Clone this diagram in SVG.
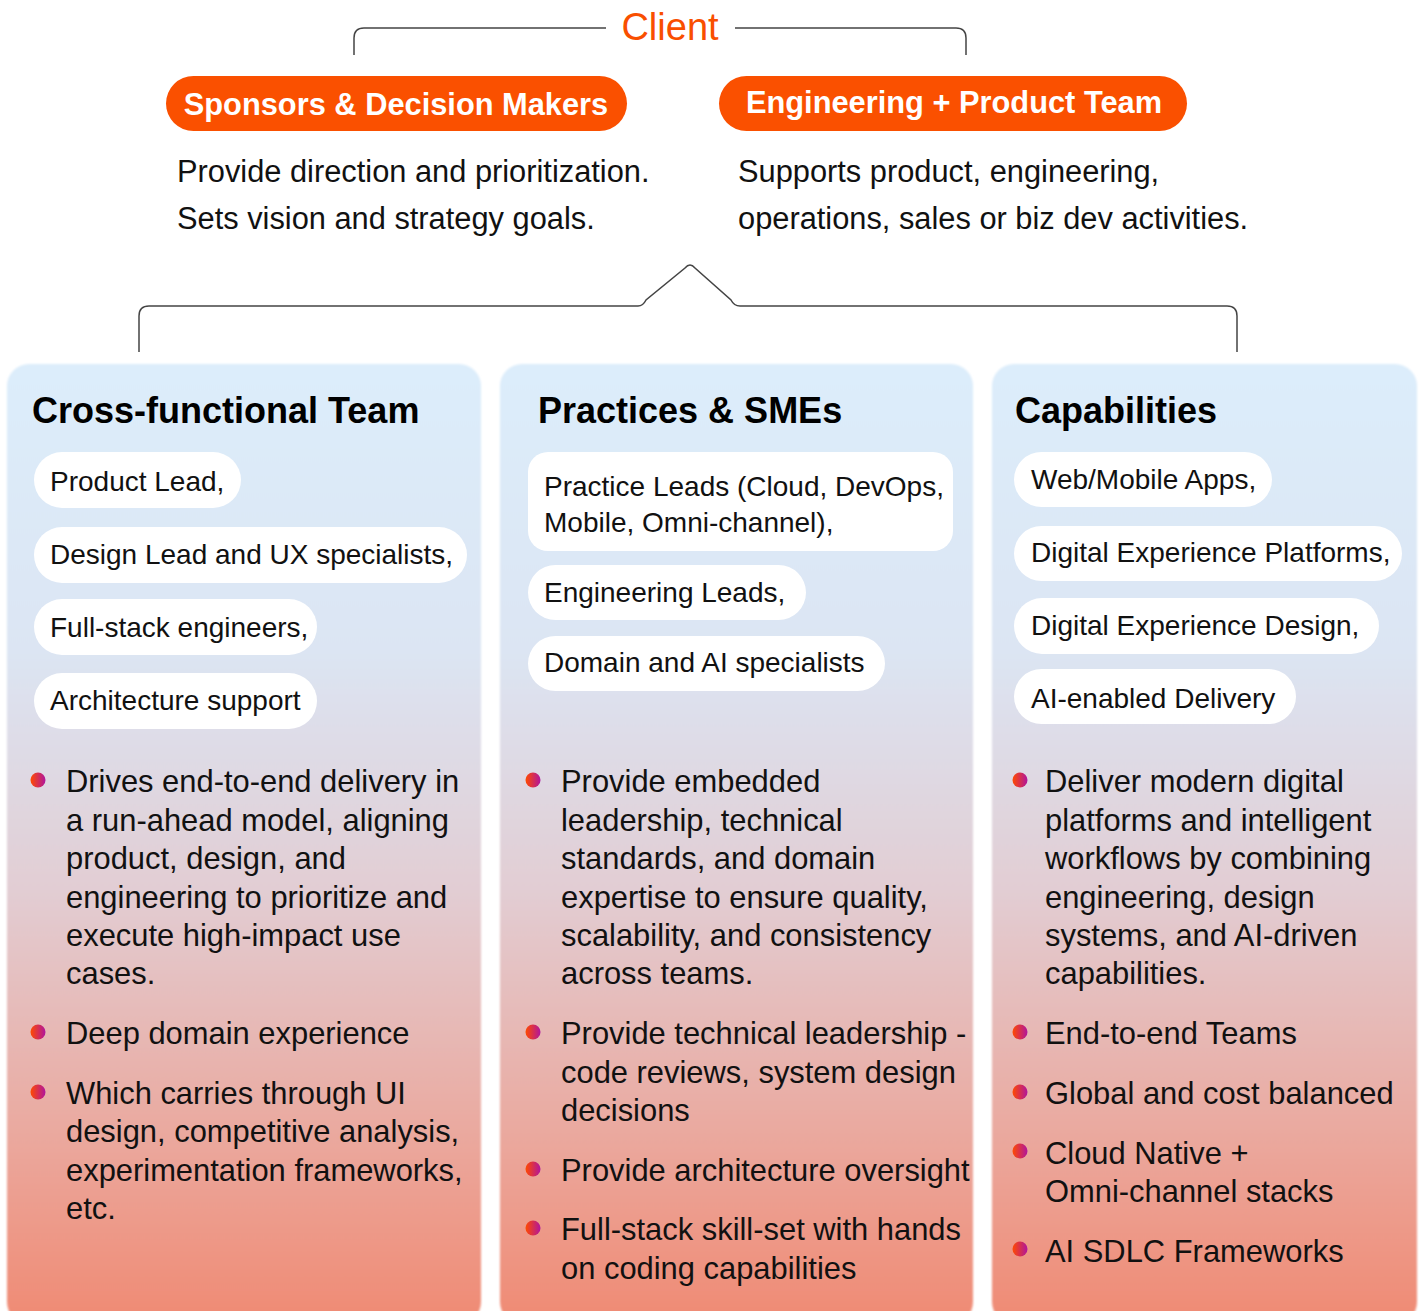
<svg xmlns="http://www.w3.org/2000/svg" width="1421" height="1311" viewBox="0 0 1421 1311">
<defs>
<linearGradient id="colg" x1="0" y1="0" x2="0" y2="1">
<stop offset="0" stop-color="#dcedfb"/>
<stop offset="0.3" stop-color="#dce5f3"/>
<stop offset="0.55" stop-color="#e2cdd3"/>
<stop offset="0.8" stop-color="#eaa99f"/>
<stop offset="1" stop-color="#f08a73"/>
</linearGradient>
<linearGradient id="dotg" x1="0" y1="0" x2="1" y2="0">
<stop offset="0" stop-color="#ff4a00"/>
<stop offset="1" stop-color="#b0159e"/>
</linearGradient>
<filter id="soft" x="-5%" y="-5%" width="110%" height="110%">
<feGaussianBlur stdDeviation="1.2"/>
</filter>
</defs>
<style>
.ln{fill:none;stroke:#444;stroke-width:1.5}
.pill{fill:#fa5000}
.pt{font-family:"Liberation Sans",Arial,sans-serif;font-size:30.8px;font-weight:bold;fill:#fff}
.desc{font-family:"Liberation Sans",Arial,sans-serif;font-size:30.8px;fill:#111}
.title{font-family:"Liberation Sans",Arial,sans-serif;font-size:36px;font-weight:bold;fill:#000}
.tag{fill:#fff}
.tt{font-family:"Liberation Sans",Arial,sans-serif;font-size:28px;fill:#111}
.bt{font-family:"Liberation Sans",Arial,sans-serif;font-size:30.9px;fill:#111}
.dot{fill:url(#dotg)}
.col{fill:url(#colg)}
</style>
<rect width="1421" height="1311" fill="#fff"/>

<g id="connectors">
<path class="ln" d="M354 55 V38 Q354 28 364 28 H606"/>
<path class="ln" d="M735 28 H956 Q966 28 966 38 V55"/>
<path class="ln" d="M139 352 V316 Q139 306 149 306 H638 Q643 306 646 300 L685 268 Q690 262 695 268 L731 300 Q734 306 740 306 H1227 Q1237 306 1237 316 V352"/>
</g>

<g id="client">
<text x="670" y="40" text-anchor="middle" font-family="Liberation Sans,Arial,sans-serif" font-size="38" fill="#f94f00">Client</text>
</g>

<g id="sponsors">
<rect class="pill" x="166" y="76" width="461" height="55" rx="27.5"/>
<text class="pt" x="396" y="115" text-anchor="middle">Sponsors &amp; Decision Makers</text>
<text class="desc" x="177" y="182">Provide direction and prioritization.</text>
<text class="desc" x="177" y="229">Sets vision and strategy goals.</text>
</g>

<g id="engineering">
<rect class="pill" x="719" y="76" width="468" height="55" rx="27.5"/>
<text class="pt" x="954" y="113" text-anchor="middle">Engineering + Product Team</text>
<text class="desc" x="738" y="182">Supports product, engineering,</text>
<text class="desc" x="738" y="229">operations, sales or biz dev activities.</text>
</g>

<g id="cross-functional">
<rect class="col" x="7" y="364" width="474" height="960" rx="22" filter="url(#soft)"/>
<text class="title" x="32" y="423">Cross-functional Team</text>
<rect class="tag" x="34" y="452" width="207" height="56" rx="28"/>
<text class="tt" x="50" y="491">Product Lead,</text>
<rect class="tag" x="34" y="527" width="433" height="56" rx="28"/>
<text class="tt" x="50" y="564">Design Lead and UX specialists,</text>
<rect class="tag" x="34" y="599" width="283" height="56" rx="28"/>
<text class="tt" x="50" y="637">Full-stack engineers,</text>
<rect class="tag" x="34" y="673" width="283" height="56" rx="28"/>
<text class="tt" x="50" y="710">Architecture support</text>
<circle class="dot" cx="38" cy="780" r="7.5"/>
<text class="bt" x="66" y="792">Drives end-to-end delivery in</text>
<text class="bt" x="66" y="831">a run-ahead model, aligning</text>
<text class="bt" x="66" y="869">product, design, and</text>
<text class="bt" x="66" y="908">engineering to prioritize and</text>
<text class="bt" x="66" y="946">execute high-impact use</text>
<text class="bt" x="66" y="984">cases.</text>
<circle class="dot" cx="38" cy="1032" r="7.5"/>
<text class="bt" x="66" y="1044">Deep domain experience</text>
<circle class="dot" cx="38" cy="1092" r="7.5"/>
<text class="bt" x="66" y="1104">Which carries through UI</text>
<text class="bt" x="66" y="1142">design, competitive analysis,</text>
<text class="bt" x="66" y="1181">experimentation frameworks,</text>
<text class="bt" x="66" y="1219">etc.</text>
</g>

<g id="practices">
<rect class="col" x="500" y="364" width="473" height="960" rx="22" filter="url(#soft)"/>
<text class="title" x="538" y="423">Practices &amp; SMEs</text>
<rect class="tag" x="528" y="452" width="425" height="99" rx="20"/>
<text class="tt" x="544" y="496">Practice Leads (Cloud, DevOps,</text>
<text class="tt" x="544" y="532">Mobile, Omni-channel),</text>
<rect class="tag" x="528" y="565" width="278" height="55" rx="27.5"/>
<text class="tt" x="544" y="602">Engineering Leads,</text>
<rect class="tag" x="528" y="636" width="357" height="55" rx="27.5"/>
<text class="tt" x="544" y="672">Domain and AI specialists</text>
<circle class="dot" cx="533" cy="780" r="7.5"/>
<text class="bt" x="561" y="792">Provide embedded</text>
<text class="bt" x="561" y="831">leadership, technical</text>
<text class="bt" x="561" y="869">standards, and domain</text>
<text class="bt" x="561" y="908">expertise to ensure quality,</text>
<text class="bt" x="561" y="946">scalability, and consistency</text>
<text class="bt" x="561" y="984">across teams.</text>
<circle class="dot" cx="533" cy="1032" r="7.5"/>
<text class="bt" x="561" y="1044">Provide technical leadership -</text>
<text class="bt" x="561" y="1083">code reviews, system design</text>
<text class="bt" x="561" y="1121">decisions</text>
<circle class="dot" cx="533" cy="1169" r="7.5"/>
<text class="bt" x="561" y="1181">Provide architecture oversight</text>
<circle class="dot" cx="533" cy="1228" r="7.5"/>
<text class="bt" x="561" y="1240">Full-stack skill-set with hands</text>
<text class="bt" x="561" y="1279">on coding capabilities</text>
</g>

<g id="capabilities">
<rect class="col" x="992" y="364" width="425" height="960" rx="22" filter="url(#soft)"/>
<text class="title" x="1015" y="423">Capabilities</text>
<rect class="tag" x="1014" y="452" width="258" height="55" rx="27.5"/>
<text class="tt" x="1031" y="489">Web/Mobile Apps,</text>
<rect class="tag" x="1014" y="526" width="388" height="55" rx="27.5"/>
<text class="tt" x="1031" y="562">Digital Experience Platforms,</text>
<rect class="tag" x="1014" y="598" width="365" height="56" rx="28"/>
<text class="tt" x="1031" y="635">Digital Experience Design,</text>
<rect class="tag" x="1014" y="669" width="282" height="55" rx="27.5"/>
<text class="tt" x="1031" y="708">AI-enabled Delivery</text>
<circle class="dot" cx="1020" cy="780" r="7.5"/>
<text class="bt" x="1045" y="792">Deliver modern digital</text>
<text class="bt" x="1045" y="831">platforms and intelligent</text>
<text class="bt" x="1045" y="869">workflows by combining</text>
<text class="bt" x="1045" y="908">engineering, design</text>
<text class="bt" x="1045" y="946">systems, and AI-driven</text>
<text class="bt" x="1045" y="984">capabilities.</text>
<circle class="dot" cx="1020" cy="1032" r="7.5"/>
<text class="bt" x="1045" y="1044">End-to-end Teams</text>
<circle class="dot" cx="1020" cy="1092" r="7.5"/>
<text class="bt" x="1045" y="1104">Global and cost balanced</text>
<circle class="dot" cx="1020" cy="1151" r="7.5"/>
<text class="bt" x="1045" y="1164">Cloud Native +</text>
<text class="bt" x="1045" y="1202">Omni-channel stacks</text>
<circle class="dot" cx="1020" cy="1249" r="7.5"/>
<text class="bt" x="1045" y="1262">AI SDLC Frameworks</text>
</g>
</svg>
